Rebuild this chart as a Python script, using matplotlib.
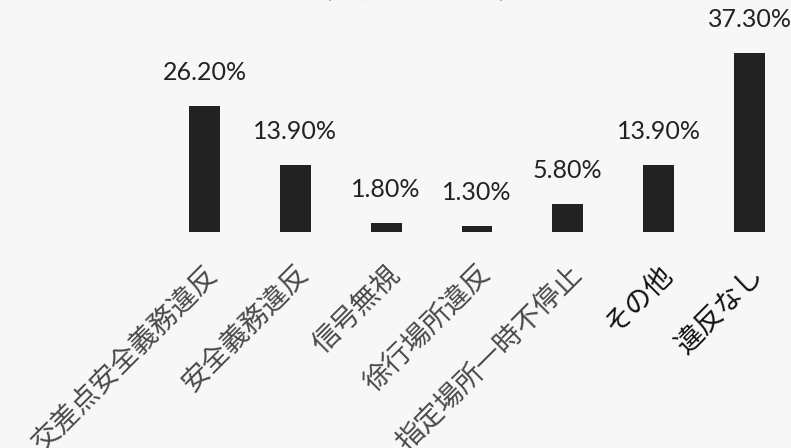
import matplotlib
matplotlib.use('Agg')
import matplotlib.pyplot as plt
from matplotlib.transforms import ScaledTranslation

categories = ['交差点安全義務違反', '安全義務違反', '信号無視', '徐行場所違反',
              '指定場所一時不停止', 'その他', '違反なし']
values = [26.2, 13.9, 1.8, 1.3, 5.8, 13.9, 37.3]
value_labels = ['26.20%', '13.90%', '1.80%', '1.30%', '5.80%', '13.90%', '37.30%']
label_colors = ['#4a4a4a', '#4a4a4a', '#4a4a4a', '#4a4a4a', '#4a4a4a', '#111111', '#111111']

W, H = 791, 448
fig = plt.figure(figsize=(W / 100, H / 100), dpi=100, facecolor='#f7f7f7')

# axes placed so bar centres land where the scan has them
step = 90.83
left_px = 204.5 - 0.5 * step
ax = fig.add_axes([left_px / W, 216 / H, (6.95 * step) / W, 216 / H])
ax.set_facecolor('#f7f7f7')

x = list(range(len(categories)))
ax.bar(x, values, width=0.34, color='#222222')
ax.set_xlim(-0.5, 6.45)
ax.set_ylim(0, 45)

for xi, v, lab in zip(x, values, value_labels):
    ax.annotate(lab, (xi, v), xytext=(0, 16), textcoords='offset points',
                ha='center', va='bottom', fontsize=18, family='Lato', color='#222222')

for s in ax.spines.values():
    s.set_visible(False)
ax.set_yticks([])
ax.set_xticks(x)
ax.set_xticklabels(categories, rotation=45, ha='right', va='top',
                   rotation_mode='anchor', fontsize=20,
                   family=['Noto Sans CJK JP', 'DejaVu Sans'])
ax.tick_params(axis='x', length=0, pad=20)
for t, c in zip(ax.get_xticklabels(), label_colors):
    t.set_color(c)
    t.set_transform(t.get_transform() + ScaledTranslation(-1 / 100, 0, fig.dpi_scale_trans))

# title of the original, mostly cut off by the top edge of the scan
fig.text(0.526, 0.988, '（平成２７年中）', ha='center', va='bottom', fontsize=20,
         family=['Noto Sans CJK JP', 'DejaVu Sans'], color='#111111')

fig.savefig('out.png', dpi=100, facecolor=fig.get_facecolor())
